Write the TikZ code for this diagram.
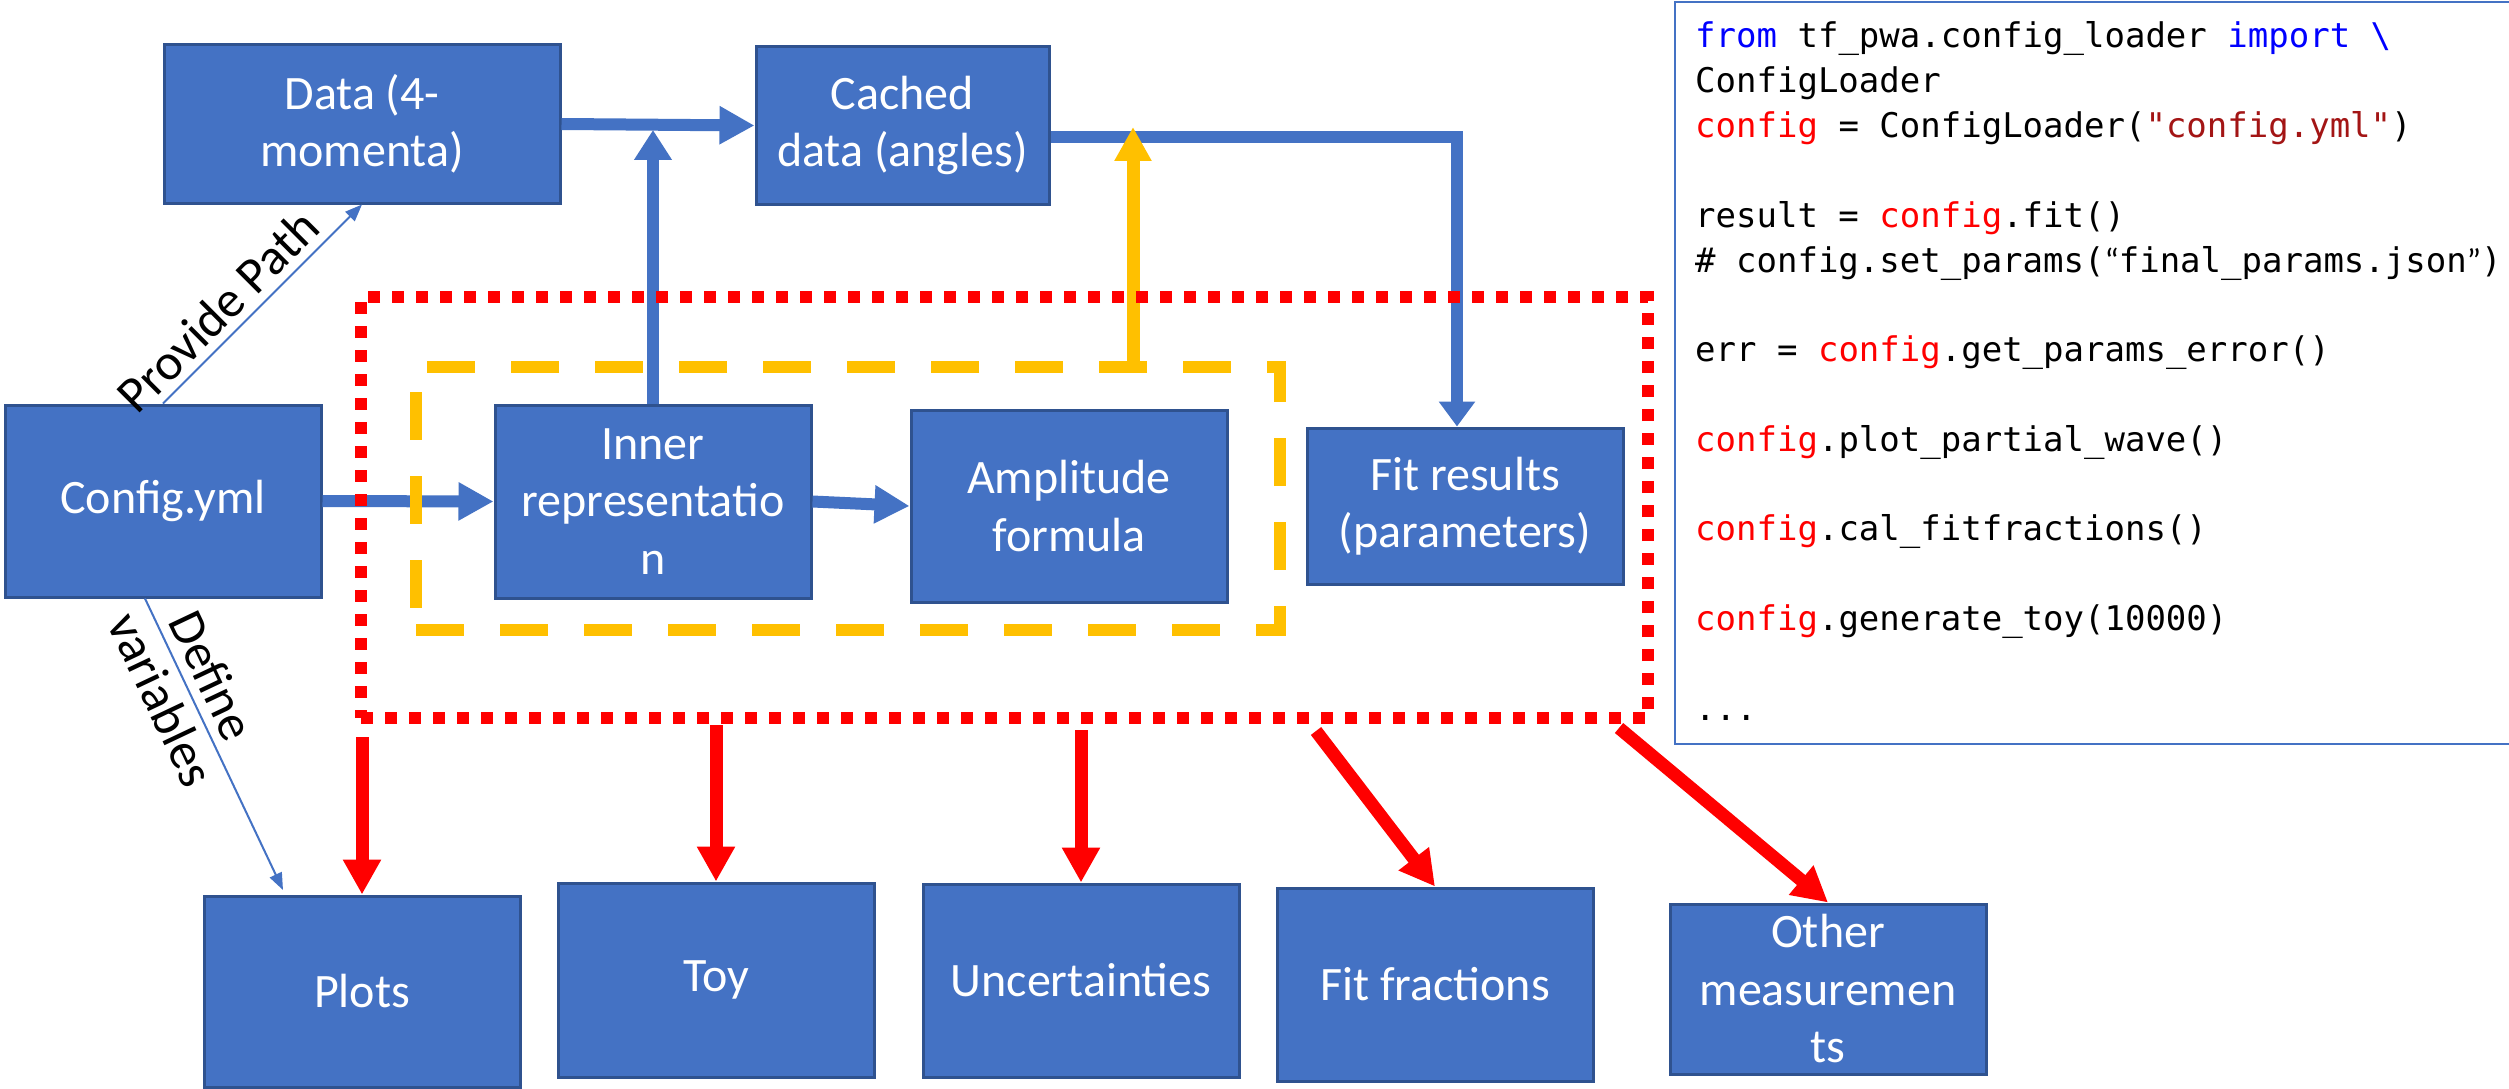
\documentclass[tikz,border=0pt]{standalone}
\usepackage{fontspec}
\setmainfont{Carlito}
\setmonofont{DejaVu Sans Mono}
\usetikzlibrary{arrows.meta}
\definecolor{boxblue}{HTML}{4472C4}
\definecolor{boxborder}{HTML}{2F528F}
\definecolor{redline}{HTML}{FF0000}
\definecolor{yelline}{HTML}{FFC000}
\definecolor{kwblue}{HTML}{0000FF}
\definecolor{cfgred}{HTML}{FF0000}
\definecolor{strred}{HTML}{A31515}
\tikzset{
  bbox/.style={draw=boxborder, line width=3pt, fill=boxblue, text=white, align=center,
    inner sep=0pt, minimum width=316pt, font=\fontsize{48}{57.5}\selectfont},
  bluearrow/.style={draw=boxblue, line width=12pt, -{Triangle[length=35pt,width=36pt]}},
  thinarrow/.style={draw=boxblue, line width=2pt, -{Triangle[length=17pt,width=13pt]}},
  redarrow/.style={draw=redline, line width=13pt, -{Triangle[length=35pt,width=36pt]}},
  yelarrow/.style={draw=yelline, line width=13pt, -{Triangle[length=34pt,width=35pt]}},
  lbl/.style={text=black, align=center, font=\fontsize{51}{56}\selectfont},
  codeline/.style={anchor=base west, inner sep=0pt, font=\ttfamily\fontsize{34}{44.8}\selectfont}
}
\begin{document}
\begin{tikzpicture}[x=1pt,y=-1pt]
\useasboundingbox[fill=white] (0,0) rectangle (2509,1089);

% code box
\node[draw=boxblue, line width=2pt, minimum width=860pt, minimum height=742pt, inner sep=0pt] (code) at (2105,373) {};
\node[codeline] (c1) at (1695,48) {\textcolor{kwblue}{from} tf\_pwa.config\_loader \textcolor{kwblue}{import \textbackslash}};
\node[codeline] (c2) at (1695,92.8) {ConfigLoader};
\node[codeline] (c3) at (1695,137.6) {\textcolor{cfgred}{config} = ConfigLoader(\textcolor{strred}{"config.yml"})};
\node[codeline] (c5) at (1695,227.2) {result = \textcolor{cfgred}{config}.fit()};
\node[codeline] (c6) at (1695,272) {\# config.set\_params({\rmfamily “}final\_params.json{\rmfamily ”})};
\node[codeline] (c8) at (1695,361.6) {err = \textcolor{cfgred}{config}.get\_params\_error()};
\node[codeline] (c10) at (1695,451.2) {\textcolor{cfgred}{config}.plot\_partial\_wave()};
\node[codeline] (c12) at (1695,540.8) {\textcolor{cfgred}{config}.cal\_fitfractions()};
\node[codeline] (c14) at (1695,630.4) {\textcolor{cfgred}{config}.generate\_toy(10000)};
\node[codeline] (c16) at (1695,720) {...};

% boxes
\node[bbox, minimum width=396pt, minimum height=158pt] (data) at (362,124) {Data (4-\\momenta)};
\node[bbox, minimum width=293pt, minimum height=157pt] (cached) at (902.5,125.5) {Cached\\data (angles)};
\node[bbox, minimum height=192pt] (config) at (163,501) {Config.yml};
\node[bbox, minimum height=193pt] (inner) at (653,501.5) {Inner\\representatio\\n};
\node[bbox, minimum height=192pt] (amp) at (1069,506) {Amplitude\\formula};
\node[bbox, minimum height=156pt] (fit) at (1465,506) {Fit results\\(parameters)};
\node[bbox, minimum height=191pt] (plots) at (362,991.5) {Plots};
\node[bbox, minimum height=194pt] (toy) at (716,980) {Toy};
\node[bbox, minimum height=193pt] (unc) at (1081,980.5) {Uncertainties};
\node[bbox, minimum height=193pt] (ff) at (1435,984.5) {Fit fractions};
\node[bbox, minimum height=170pt] (other) at (1828,989) {Other\\measuremen\\ts};

% coordinates
\coordinate (jn) at (653,130);
\coordinate (ytip) at (1133,127);
\coordinate (dv) at (283,890);
\coordinate (r1) at (362,737);
\coordinate (r2) at (716,725);
\coordinate (r3) at (1081,730);
\coordinate (r4) at (1316,731);
\coordinate (r5) at (1619,728);

% blue arrows
\draw[bluearrow] (data.east) -- (cached.west);
\draw[bluearrow, -{Triangle[length=30pt,width=36pt]}] (inner.north) -- (jn);
\draw[bluearrow, -{Triangle[length=25pt,width=35pt]}] ([yshift=-11.5pt]cached.east) -| ([xshift=-8pt]fit.north);
\draw[bluearrow] (config.east) -- (inner.west);
\draw[bluearrow] (inner.east) -- (amp.west);

% thin labelled arrows
\draw[thinarrow] (config.north) -- node[lbl, sloped, pos=0.37, above=6pt, inner sep=2pt] (pp) {Provide Path} (data.south);
\draw[thinarrow] ([xshift=-18pt]config.south) -- node[lbl, sloped, pos=0.305, inner sep=0pt] (dvl) {Define\\variables} (dv);

% red arrows
\draw[redarrow] (r1) -- (plots.north);
\draw[redarrow] (r2) -- (toy.north);
\draw[redarrow] (r3) -- (unc.north);
\draw[redarrow] (r4) -- (ff.north);
\draw[redarrow] (r5) -- (other.north);

% dashed groups
\node[draw=yelline, line width=12pt, dash pattern=on 48pt off 36pt, minimum width=864pt, minimum height=263pt, inner sep=0pt] (yb) at (848,498.5) {};
\draw[yelarrow] (yb.north -| ytip) -- (ytip);
\node[draw=redline, line width=12pt, dash pattern=on 12pt off 12pt, minimum width=1287pt, minimum height=421pt, inner sep=0pt] (rb) at (1004.5,507.5) {};
\end{tikzpicture}
\end{document}
